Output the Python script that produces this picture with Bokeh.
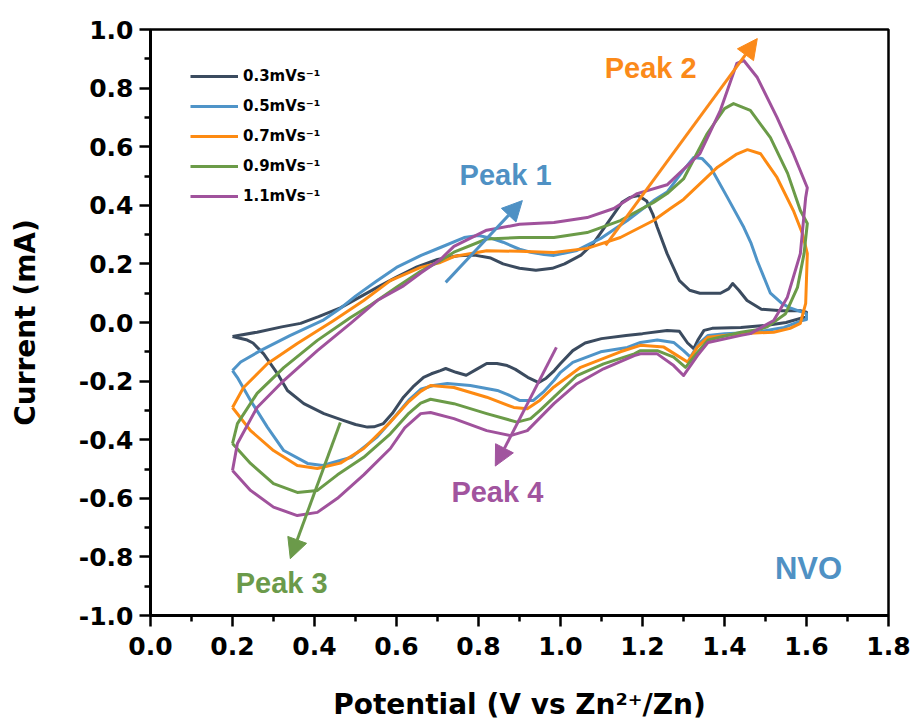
from bokeh.plotting import figure
from bokeh.models import (Range1d, FixedTicker, NumeralTickFormatter, Label,
                          Arrow, NormalHead, Legend, LegendItem)
from bokeh.embed import file_html
from bokeh.resources import INLINE

# ---------------- data ----------------
scan_labels = ["0.3mVs\u207b\u00b9", "0.5mVs\u207b\u00b9", "0.7mVs\u207b\u00b9",
               "0.9mVs\u207b\u00b9", "1.1mVs\u207b\u00b9"]
line_colors = ["#3b4b5f", "#4f94c8", "#fd8a12", "#6b9b48", "#a0529c"]

potential_03 = [0.20, 0.26, 0.32, 0.366, 0.41, 0.463, 0.553, 0.60, 0.65, 0.70, 0.75, 0.79, 0.83, 0.86, 0.90,
                0.94, 0.98, 1.01, 1.05, 1.08, 1.11, 1.13, 1.15, 1.17, 1.19, 1.21, 1.225, 1.236, 1.26, 1.29,
                1.315, 1.34, 1.39, 1.41, 1.42, 1.435, 1.455, 1.49, 1.54, 1.585, 1.60,
                1.60, 1.55, 1.50, 1.44, 1.37, 1.35, 1.335, 1.325, 1.31, 1.29, 1.26, 1.20, 1.16, 1.10, 1.06,
                1.03, 1.00, 0.985, 0.965, 0.947, 0.92, 0.89, 0.87, 0.845, 0.82, 0.795, 0.77, 0.745, 0.72,
                0.707, 0.685, 0.666, 0.64, 0.617, 0.59, 0.568, 0.545, 0.529, 0.50, 0.47, 0.423, 0.374,
                0.334, 0.31, 0.276, 0.25, 0.236, 0.20]
current_03 = [-0.048, -0.033, -0.015, -0.003, 0.02, 0.05, 0.12, 0.155, 0.19, 0.215, 0.228, 0.23, 0.22, 0.20, 0.185,
              0.178, 0.185, 0.20, 0.23, 0.27, 0.33, 0.37, 0.41, 0.427, 0.433, 0.415, 0.37, 0.325, 0.235, 0.143,
              0.11, 0.10, 0.10, 0.115, 0.133, 0.11, 0.075, 0.045, 0.04, 0.04, 0.035,
              0.02, 0.0, -0.01, -0.017, -0.02, -0.027, -0.06, -0.089, -0.07, -0.03, -0.027, -0.038, -0.044, -0.055, -0.07,
              -0.096, -0.14, -0.164, -0.19, -0.205, -0.187, -0.16, -0.147, -0.14, -0.14, -0.16, -0.18, -0.17, -0.157,
              -0.164, -0.175, -0.187, -0.22, -0.255, -0.31, -0.345, -0.356, -0.357, -0.348, -0.334, -0.311, -0.277,
              -0.232, -0.175, -0.107, -0.07, -0.06, -0.048]

potential_05 = [0.20, 0.22, 0.268, 0.34, 0.42, 0.46, 0.50, 0.55, 0.60, 0.66, 0.707, 0.765, 0.80, 0.83, 0.86, 0.90,
                0.927, 0.96, 0.984, 1.04, 1.098, 1.163, 1.227, 1.26, 1.30, 1.325, 1.345, 1.366, 1.407, 1.447,
                1.465, 1.48, 1.512, 1.54, 1.56, 1.60, 1.60,
                1.59, 1.545, 1.48, 1.40, 1.36, 1.337, 1.317, 1.30, 1.276, 1.236, 1.195, 1.163, 1.098, 1.03,
                1.00, 0.984, 0.96, 0.934, 0.90, 0.87, 0.846, 0.78, 0.724, 0.69, 0.659, 0.63, 0.60, 0.553,
                0.49, 0.42, 0.383, 0.325, 0.285, 0.244, 0.212, 0.20]
current_05 = [-0.164, -0.135, -0.096, -0.045, 0.007, 0.045, 0.09, 0.14, 0.188, 0.229, 0.256, 0.29, 0.297, 0.288, 0.274, 0.25,
              0.24, 0.232, 0.229, 0.246, 0.287, 0.348, 0.416, 0.445, 0.52, 0.563, 0.56, 0.53, 0.427, 0.325,
              0.27, 0.21, 0.10, 0.065, 0.05, 0.03, 0.01,
              0.007, -0.017, -0.033, -0.038, -0.044, -0.073, -0.118, -0.096, -0.068, -0.06, -0.068, -0.085, -0.10, -0.136,
              -0.17, -0.198, -0.235, -0.266, -0.266, -0.245, -0.232, -0.215, -0.208, -0.215, -0.228, -0.265, -0.315, -0.39,
              -0.46, -0.488, -0.481, -0.437, -0.357, -0.266, -0.188, -0.164]

potential_07 = [0.20, 0.227, 0.285, 0.358, 0.447, 0.52, 0.585, 0.659, 0.707, 0.74, 0.82, 0.90, 0.984, 1.065, 1.146,
                1.227, 1.268, 1.30, 1.383, 1.43, 1.456, 1.488, 1.528, 1.568, 1.59, 1.602, 1.60, 1.598, 1.585,
                1.56, 1.52, 1.44, 1.36, 1.334, 1.31, 1.285, 1.252, 1.195, 1.146, 1.049, 0.984, 0.95, 0.919,
                0.886, 0.82, 0.74, 0.683, 0.659, 0.63, 0.585, 0.52, 0.463, 0.407, 0.358, 0.30, 0.244, 0.20]
current_07 = [-0.29, -0.222, -0.141, -0.072, 0.007, 0.075, 0.143, 0.188, 0.205, 0.225, 0.245, 0.243, 0.239, 0.253, 0.29,
              0.348, 0.389, 0.42, 0.53, 0.575, 0.59, 0.576, 0.495, 0.382, 0.304, 0.235, 0.15, 0.065, -0.003,
              -0.02, -0.033, -0.038, -0.05, -0.084, -0.135, -0.113, -0.084, -0.078, -0.10, -0.153, -0.22, -0.265, -0.294,
              -0.29, -0.255, -0.222, -0.215, -0.235, -0.27, -0.34, -0.43, -0.48, -0.498, -0.488, -0.437, -0.369, -0.29]

potential_09 = [0.20, 0.212, 0.26, 0.325, 0.407, 0.488, 0.537, 0.60, 0.659, 0.70, 0.74, 0.82, 0.90, 0.984, 1.065,
                1.146, 1.227, 1.26, 1.30, 1.358, 1.40, 1.422, 1.463, 1.512, 1.554, 1.585, 1.602, 1.594, 1.578,
                1.549, 1.504, 1.48, 1.44, 1.36, 1.334, 1.305, 1.276, 1.236, 1.195, 1.18, 1.105, 1.04, 0.984,
                0.95, 0.927, 0.894, 0.82, 0.74, 0.683, 0.659, 0.63, 0.585, 0.52, 0.456, 0.407, 0.358, 0.30,
                0.244, 0.20]
current_09 = [-0.413, -0.345, -0.242, -0.154, -0.061, 0.017, 0.06, 0.12, 0.175, 0.205, 0.24, 0.285, 0.29, 0.29, 0.307,
              0.348, 0.41, 0.44, 0.49, 0.645, 0.73, 0.747, 0.724, 0.631, 0.509, 0.382, 0.338, 0.235, 0.12,
              0.03, -0.015, -0.025, -0.033, -0.06, -0.102, -0.153, -0.118, -0.096, -0.096, -0.107, -0.141, -0.181, -0.255,
              -0.30, -0.328, -0.34, -0.311, -0.277, -0.262, -0.275, -0.31, -0.38, -0.46, -0.52, -0.573, -0.58, -0.55,
              -0.481, -0.413]

potential_11 = [0.20, 0.212, 0.26, 0.325, 0.407, 0.488, 0.553, 0.617, 0.66, 0.707, 0.74, 0.82, 0.90, 0.984, 1.065,
                1.13, 1.187, 1.26, 1.34, 1.39, 1.43, 1.447, 1.48, 1.528, 1.568, 1.602, 1.598, 1.585, 1.553,
                1.52, 1.463, 1.44, 1.36, 1.334, 1.30, 1.276, 1.236, 1.195, 1.18, 1.105, 1.04, 0.984, 0.919,
                0.878, 0.82, 0.74, 0.683, 0.659, 0.62, 0.585, 0.52, 0.456, 0.407, 0.358, 0.30, 0.244, 0.20]
current_11 = [-0.505, -0.413, -0.29, -0.198, -0.096, -0.003, 0.075, 0.125, 0.17, 0.215, 0.26, 0.315, 0.335, 0.341, 0.358,
              0.389, 0.44, 0.47, 0.576, 0.724, 0.884, 0.894, 0.836, 0.70, 0.576, 0.46, 0.427, 0.235, 0.085,
              0.007, -0.038, -0.044, -0.068, -0.113, -0.181, -0.147, -0.107, -0.107, -0.113, -0.158, -0.209, -0.277, -0.369,
              -0.386, -0.369, -0.328, -0.307, -0.311, -0.36, -0.43, -0.52, -0.60, -0.648, -0.659, -0.63, -0.573, -0.505]

potentials = [potential_03, potential_05, potential_07, potential_09, potential_11]
currents = [current_03, current_05, current_07, current_09, current_11]

x_ticks = [0.0, 0.2, 0.4, 0.6, 0.8, 1.0, 1.2, 1.4, 1.6, 1.8]
y_ticks = [-1.0, -0.8, -0.6, -0.4, -0.2, 0.0, 0.2, 0.4, 0.6, 0.8, 1.0]
x_minor = [0.1, 0.3, 0.5, 0.7, 0.9, 1.1, 1.3, 1.5, 1.7]
y_minor = [-0.9, -0.7, -0.5, -0.3, -0.1, 0.1, 0.3, 0.5, 0.7, 0.9]

peak_texts = ["Peak 1", "Peak 2", "Peak 3", "Peak 4"]
peak_colors = ["#4f91c4", "#fb8a1a", "#6b9a4a", "#a1549e"]
peak_label_x = [0.866, 1.22, 0.32, 0.846]
peak_label_y = [0.505, 0.87, -0.89, -0.577]
arrow_x_start = [0.72, 1.11, 0.463, 0.99]
arrow_y_start = [0.137, 0.263, -0.341, -0.085]
arrow_x_end = [0.907, 1.48, 0.341, 0.841]
arrow_y_end = [0.416, 0.969, -0.806, -0.49]

sample_text = "NVO"
sample_x, sample_y = 1.605, -0.84

# ---------------- figure ----------------
AX_FONT = "DejaVu Sans"
ANN_FONT = "Liberation Sans"
p = figure(width=916, height=724, output_backend="svg", toolbar_location=None,
           x_range=Range1d(0, 1.8), y_range=Range1d(-1.0, 1.0),
           min_border_left=150, min_border_right=28, min_border_top=29, min_border_bottom=109)
p.background_fill_color = "white"
p.border_fill_color = "white"
p.grid.visible = False
p.outline_line_color = "black"
p.outline_line_width = 2.5
p.outline_line_alpha = 1.0

items = []
for xs, ys, c, lab in zip(potentials, currents, line_colors, scan_labels):
    r = p.line(xs, ys, line_color=c, line_width=3, line_join="round")
    items.append(LegendItem(label=lab, renderers=[r]))

legend = Legend(items=items, location=(40, 409), orientation="vertical",
                label_text_font=AX_FONT, label_text_font_style="bold", label_text_font_size="15px",
                label_text_color="black", glyph_width=48, glyph_height=20, label_height=20,
                label_standoff=5, spacing=10, padding=0, margin=0,
                border_line_color=None, background_fill_alpha=0)
p.add_layout(legend)

for ax in (p.xaxis[0], p.yaxis[0]):
    ax.axis_line_width = 3
    ax.axis_line_color = "black"
    ax.major_tick_line_width = 2.5
    ax.minor_tick_line_width = 2.5
    ax.major_tick_out = 11
    ax.major_tick_in = 0
    ax.minor_tick_out = 6
    ax.minor_tick_in = 0
    ax.major_label_text_font = AX_FONT
    ax.major_label_text_font_style = "bold"
    ax.major_label_text_font_size = "25px"
    ax.major_label_text_color = "black"
    ax.axis_label_text_font = AX_FONT
    ax.axis_label_text_font_style = "bold"
    ax.axis_label_text_font_size = "28px"
    ax.axis_label_text_color = "black"
    ax.formatter = NumeralTickFormatter(format="0.0")

p.xaxis[0].ticker = FixedTicker(ticks=x_ticks, minor_ticks=x_minor)
p.yaxis[0].ticker = FixedTicker(ticks=y_ticks, minor_ticks=y_minor)
p.xaxis[0].axis_label = "Potential (V vs Zn\u00b2\u207a/Zn)"
p.yaxis[0].axis_label = "Current (mA)"
p.xaxis[0].major_label_standoff = 10
p.yaxis[0].major_label_standoff = 6
p.xaxis[0].axis_label_standoff = 30
p.yaxis[0].axis_label_standoff = 34

for t, c, lx, ly, xs, ys, xe, ye in zip(peak_texts, peak_colors, peak_label_x, peak_label_y,
                                         arrow_x_start, arrow_y_start, arrow_x_end, arrow_y_end):
    p.add_layout(Arrow(end=NormalHead(size=20, fill_color=c, line_color=c),
                       x_start=xs, y_start=ys, x_end=xe, y_end=ye,
                       line_color=c, line_width=3))
    p.add_layout(Label(x=lx, y=ly, text=t, text_align="center", text_baseline="middle",
                       text_font=ANN_FONT, text_font_style="bold", text_font_size="29px", text_color=c))

p.add_layout(Label(x=sample_x, y=sample_y, text=sample_text, text_align="center", text_baseline="middle",
                   text_font=ANN_FONT, text_font_style="bold", text_font_size="31px", text_color="#4f91c4"))

open("out.html", "w").write(file_html(p, INLINE))
